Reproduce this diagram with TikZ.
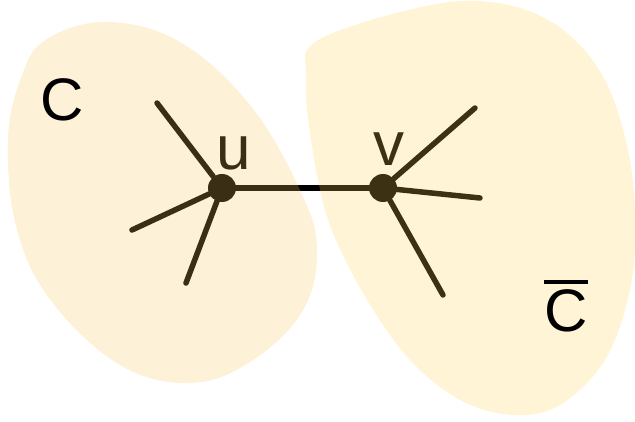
\documentclass[tikz,border=0pt]{standalone}
\usepackage{fontspec}
\setmainfont{Liberation Sans}
\usepackage{xcolor}
\definecolor{blobleft}{RGB}{247,200,89}
\definecolor{blobright}{RGB}{255,213,81}
\newcommand{\topbar}[1]{\leavevmode\vbox{\hrule height 4pt\kern 5pt\hbox{#1}}}

\begin{document}
\begin{tikzpicture}[
  x=1pt, y=-1pt,
  vertex/.style={circle, fill=black, inner sep=0pt, minimum size=28pt},
  edge/.style={line width=5.5pt, line cap=round},
  blob/.style={fill opacity=0.235},
  letter/.style={inner sep=0pt, font=\fontsize{60}{60}\selectfont},
  vname/.style={inner sep=0pt, font=\fontsize{62}{62}\selectfont}
]
  \useasboundingbox (0,0) rectangle (635,422);

  % the cut edge and its neighbours
  \node[vertex] (u) at (222,188) {};
  \node[vertex] (v) at (383,188) {};
  \coordinate (u1) at (157,103);
  \coordinate (u2) at (132,230);
  \coordinate (u3) at (186,283);
  \coordinate (v1) at (475,108);
  \coordinate (v2) at (480,198);
  \coordinate (v3) at (443,295);

  \draw[edge] (u) -- (v);
  \draw[edge] (u) -- (u1);
  \draw[edge] (u) -- (u2);
  \draw[edge] (u) -- (u3);
  \draw[edge] (v) -- (v1);
  \draw[edge] (v) -- (v2);
  \draw[edge] (v) -- (v3);

  \node[vname] (ulab) at (234,153) {u};
  \node[vname] (vlab) at (389,149) {v};

  % the two sides of the cut
  \fill[blob, blobleft] plot[smooth cycle, tension=0.65] coordinates {
    (47,39) (107,22) (180,42) (250,105) (300,190) (317,250)
    (302,312) (250,362) (190,383) (120,365) (52,302) (17,230)
    (8,140) (22,75)};
  \fill[blob, blobright] plot[smooth cycle, tension=0.6] coordinates {
    (307,50) (333,33) (400,12) (463,1) (520,8) (567,33) (605,80)
    (628,150) (635,220) (630,290) (605,360) (560,405) (513,415)
    (460,400) (410,360) (367,300) (333,233) (318,180) (307,110) (306,72)};

  \node[letter] (cside) at (62,100) {C};
  \node[letter] (cbar) at (566,306) {\topbar{C}};
\end{tikzpicture}
\end{document}
